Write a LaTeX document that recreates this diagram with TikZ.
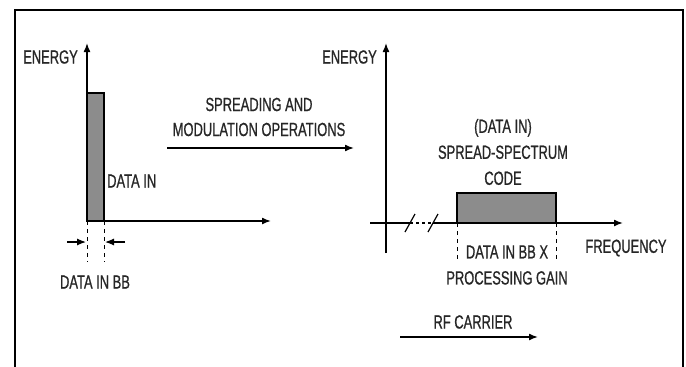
\documentclass[tikz,border=0pt]{standalone}
\usepackage{fontspec}
\setmainfont{Liberation Sans}[FakeStretch=0.68,FakeBold=0.8]
\usetikzlibrary{arrows.meta}

\begin{document}
\begin{tikzpicture}[x=1pt,y=-1pt,
  lbl/.style={font=\fontsize{19}{26}\selectfont,inner sep=0pt,align=center,text=black!85},
  axis/.style={line width=1.5pt,-{Latex[length=9pt,width=7pt]}},
  bar/.style={fill=black!45,draw=black,line width=1.2pt},
  guide/.style={dash pattern=on 4pt off 4pt,line width=1pt}]
\useasboundingbox (0,0) rectangle (686,367);
%\draw[help lines,step=50] (0,0) grid (686,367);
% frame
\draw[line width=1.8pt] (15,367) -- (15,10) -- (683,10) -- (683,367);
% baseband spectrum
\coordinate (o1) at (87,221);
\coordinate (y1) at (87,43);
\coordinate (x1) at (271,221);
\draw[bar] (o1) rectangle (104,93);
\draw[axis] (o1) -- (y1);
\draw[axis] (o1) -- (x1);
\node[lbl,anchor=east] (energyA) at (78,57) {ENERGY};
\node[lbl,anchor=west] (datain) at (107,181) {DATA IN};
\coordinate (bbL) at (87,262);
\coordinate (bbR) at (104,262);
\draw[guide] (o1) -- (bbL);
\draw[guide] (104,221) -- (bbR);
\draw[axis,line width=1.2pt] (67,242) -- (86,242);
\draw[axis,line width=1.2pt] (125,242) -- (105,242);
\node[lbl] (databb) at (95,282) {DATA IN BB};
% operation
\node[lbl] (spread) at (259,117) {SPREADING AND\\[-1pt]MODULATION OPERATIONS};
\coordinate (opA) at (167,148);
\coordinate (opB) at (354,148);
\draw[axis] (opA) -- (opB);
% spread spectrum
\coordinate (o2) at (386,223);
\draw[line width=1.5pt,-{Latex[length=9pt,width=7pt]}] (386,253) -- (386,43);
\node[lbl,anchor=east] (energyB) at (377,57) {ENERGY};
\draw[bar] (457,223) rectangle (556,193);
\draw[line width=1.5pt] (370,223) -- (410,223);
\draw[line width=1.2pt,dash pattern=on 3pt off 3pt] (410,223) -- (433,223);
\draw[axis] (433,223) -- (623,223);
\draw[line width=1.2pt] (405,232) -- (415,214);
\draw[line width=1.2pt] (428,232) -- (438,214);
\node[lbl] (sscode) at (503,152) {(DATA IN)\\SPREAD-SPECTRUM\\CODE};
\draw[guide] (457,223) -- (457,262);
\draw[guide] (556,223) -- (556,262);
\node[lbl] (gain) at (507,265) {DATA IN BB X\\PROCESSING GAIN};
\node[lbl] (freq) at (626,248) {FREQUENCY};
\node[lbl] (rf) at (473,322) {RF CARRIER};
\coordinate (rfA) at (400,337);
\coordinate (rfB) at (538,337);
\draw[axis] (rfA) -- (rfB);
\end{tikzpicture}
\end{document}
